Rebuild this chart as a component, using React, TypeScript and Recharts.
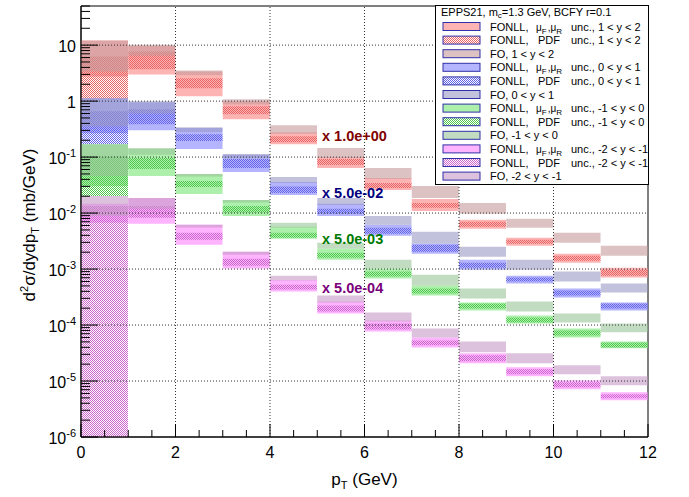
import React from 'react';
import {
  ComposedChart,
  Bar,
  XAxis,
  YAxis,
  Label,
  ReferenceLine,
  ReferenceArea,
  ReferenceDot,
} from 'recharts';

// pT bin centres (GeV), bins are 1 GeV wide
const ptBins = [0.5, 1.5, 2.5, 3.5, 4.5, 5.5, 6.5, 7.5, 8.5, 9.5, 10.5, 11.5];
const rapidityRanges = ['1 < y < 2', '0 < y < 1', '-1 < y < 0', '-2 < y < -1'];
const scaleNotes = ['x 1.0e+00', 'x 5.0e-02', 'x 5.0e-03', 'x 5.0e-04'];
const notePt = 5.1;
const noteValues = [0.238, 0.0229, 0.00344, 0.000459];

const xTicks = [0, 0.5, 1, 1.5, 2, 2.5, 3, 3.5, 4, 4.5, 5, 5.5, 6, 6.5, 7, 7.5, 8, 8.5, 9, 9.5, 10, 10.5, 11, 11.5, 12];
const xGrid = [2, 4, 6, 8, 10];
const decades = [-6, -5, -4, -3, -2, -1, 0, 1];

// [low, high] in mb/GeV, already multiplied by the factor of the rapidity bin
// 1 < y < 2
const y12Scale = [[2.76, 12.1], [3.0, 9.6], [1.22, 3.39], [0.474, 0.99], [0.17, 0.279], [0.064, 0.1], [0.0259, 0.0423], [0.0109, 0.0179], [0.00523, 0.00757], [0.00261, 0.00362], [0.0013, 0.00188], [0.000703, 0.00106]];
const y12Pdf = [[1.08, 6.27], [3.7, 7.7], [1.69, 2.55], [0.582, 0.808], [0.185, 0.236], [0.072, 0.092], [0.0281, 0.0345], [0.0124, 0.0152], [0.00568, 0.00697], [0.00283, 0.00334], [0.00141, 0.00173], [0.000763, 0.000975]];
const y12Fo = [[3.39, 12.1], [6.5, 10.2], [2.9, 3.53], [0.87, 1.08], [0.26, 0.371], [0.096, 0.145], [0.0406, 0.0637], [0.0186, 0.0305], [0.00968, 0.0152], [0.00545, 0.00789], [0.00295, 0.00444], [0.00173, 0.00261]];
// 0 < y < 1
const y01Scale = [[0.267, 1.12], [0.302, 0.95], [0.139, 0.33], [0.054, 0.11], [0.0211, 0.0359], [0.0089, 0.0146], [0.00393, 0.00617], [0.00188, 0.00283], [0.000975, 0.00147], [0.00055, 0.000763], [0.00031, 0.000448], [0.000182, 0.000253]];
const y01Pdf = [[0.17, 0.659], [0.386, 0.714], [0.193, 0.256], [0.064, 0.092], [0.0229, 0.0299], [0.00968, 0.0119], [0.00427, 0.00545], [0.00204, 0.00272], [0.00106, 0.0013], [0.000597, 0.000703], [0.000336, 0.000413], [0.000197, 0.000242]];
const y01Fo = [[0.356, 1.12], [0.6, 0.99], [0.28, 0.342], [0.095, 0.113], [0.0345, 0.0441], [0.014, 0.0186], [0.00617, 0.0089], [0.00283, 0.00463], [0.00166, 0.0025], [0.000975, 0.00147], [0.000597, 0.0009], [0.00038, 0.00055]];
// -1 < y < 0
const ym10Scale = [[0.0305, 0.17], [0.0459, 0.14], [0.022, 0.0499], [0.0089, 0.0172], [0.00348, 0.00568], [0.00147, 0.00231], [0.000675, 0.00102], [0.000336, 0.000507], [0.000182, 0.000253], [0.000107, 0.000148], [6.0e-5, 8.7e-5], [3.84e-5, 5.1e-5]];
const ym10Pdf = [[0.0202, 0.104], [0.0611, 0.096], [0.0292, 0.0374], [0.0101, 0.0134], [0.00362, 0.00444], [0.0016, 0.00196], [0.000733, 0.0009], [0.000365, 0.000448], [0.000197, 0.000242], [0.000111, 0.000137], [6.5e-5, 8.0e-5], [3.99e-5, 4.9e-5]];
const ym10Fo = [[0.0459, 0.17], [0.11, 0.145], [0.045, 0.0499], [0.0155, 0.0172], [0.00545, 0.0067], [0.00231, 0.00295], [0.00102, 0.00147], [0.000507, 0.000794], [0.000297, 0.000448], [0.000175, 0.000263], [0.000111, 0.000161], [7.4e-5, 0.000107]];
// -2 < y < -1
const ym21Scale = [[0.0067, 0.0146], [0.00643, 0.0186], [0.00272, 0.00617], [0.00102, 0.00204], [0.000396, 0.00064], [0.000161, 0.000263], [7.7e-5, 0.000121], [3.99e-5, 6.0e-5], [2.07e-5, 3.12e-5], [1.22e-5, 1.76e-5], [7.15e-6, 1.03e-5], [4.55e-6, 6.3e-6]];
const ym21Pdf = [[1e-6, 0.0134], [0.00822, 0.0134], [0.00334, 0.00444], [0.00115, 0.00153], [0.00043, 0.000527], [0.000175, 0.000223], [8.35e-5, 0.000107], [4.34e-5, 5.32e-5], [2.25e-5, 2.88e-5], [1.32e-5, 1.62e-5], [7.76e-6, 9.5e-6], [4.94e-6, 5.82e-6]];
const ym21Fo = [[0.0089, 0.0202], [0.012, 0.0186], [0.0055, 0.00617], [0.0018, 0.00204], [0.000622, 0.000763], [0.000253, 0.000336], [0.000116, 0.000168], [6.0e-5, 8.7e-5], [3.25e-5, 5.1e-5], [2.07e-5, 3.12e-5], [1.32e-5, 1.91e-5], [8.4e-6, 1.22e-5]];

const palette = [
  { scale: '#ff8c8c', pdf: '#e86464', fo: '#c49a9a', note: '#7f0000' },
  { scale: '#8c8cff', pdf: '#6464e8', fo: '#9a9ac4', note: '#00007f' },
  { scale: '#7fe87f', pdf: '#50c850', fo: '#9ac49a', note: '#007a00' },
  { scale: '#ff8cff', pdf: '#cc66cc', fo: '#c49ac4', note: '#7a007a' },
];

const bands = [
  { key: 'y12Scale', values: y12Scale, rap: 0, kind: 'scale' },
  { key: 'y12Pdf', values: y12Pdf, rap: 0, kind: 'pdf' },
  { key: 'y12Fo', values: y12Fo, rap: 0, kind: 'fo' },
  { key: 'y01Scale', values: y01Scale, rap: 1, kind: 'scale' },
  { key: 'y01Pdf', values: y01Pdf, rap: 1, kind: 'pdf' },
  { key: 'y01Fo', values: y01Fo, rap: 1, kind: 'fo' },
  { key: 'ym10Scale', values: ym10Scale, rap: 2, kind: 'scale' },
  { key: 'ym10Pdf', values: ym10Pdf, rap: 2, kind: 'pdf' },
  { key: 'ym10Fo', values: ym10Fo, rap: 2, kind: 'fo' },
  { key: 'ym21Scale', values: ym21Scale, rap: 3, kind: 'scale' },
  { key: 'ym21Pdf', values: ym21Pdf, rap: 3, kind: 'pdf' },
  { key: 'ym21Fo', values: ym21Fo, rap: 3, kind: 'fo' },
];

const rows = ptBins.map((pt, i) => {
  const row: Record<string, any> = { pt };
  bands.forEach((b) => {
    row[b.key] = b.values[i];
  });
  return row;
});

const yTicks = decades.flatMap((e) =>
  [1, 2, 3, 4, 5, 6, 7, 8, 9].map((k) => Number((k * Math.pow(10, e)).toPrecision(2)))
).filter((v) => v <= 50);

const FONT = '"Liberation Sans", Arial, Helvetica, sans-serif';

const fillOf = (b: any) => {
  const c = palette[b.rap];
  if (b.kind === 'pdf') return { fill: `url(#chk${b.rap})`, opacity: 1 };
  if (b.kind === 'fo') return { fill: c.fo, opacity: 0.6 };
  return { fill: c.scale, opacity: 0.65 };
};

const renderXTick = (props: any) => {
  const { x, y, payload } = props;
  const v = payload.value;
  const major = v % 2 === 0;
  return (
    <g>
      <line x1={x} x2={x} y1={y} y2={y - (major ? 13 : 7)} stroke="#000" />
      {major && (
        <text x={x} y={y + 21} textAnchor="middle" fontSize={16} fill="#000">
          {v}
        </text>
      )}
    </g>
  );
};

const renderYTick = (props: any) => {
  const { x, y, payload } = props;
  const v = payload.value;
  const e = Math.floor(Math.log10(v) + 1e-9);
  const major = Math.abs(v / Math.pow(10, e) - 1) < 1e-6;
  return (
    <g>
      <line x1={x} x2={x + (major ? 17 : 9)} y1={y} y2={y} stroke="#000" />
      {major && (
        <text x={x - 5} y={y + 7} textAnchor="end" fontSize={16} fill="#000">
          {e === 1 ? '10' : e === 0 ? '1' : (
            <>
              10<tspan dy={-7} fontSize={11}>{e}</tspan>
            </>
          )}
        </text>
      )}
    </g>
  );
};

const renderXTitle = (props: any) => {
  const vb = props.viewBox;
  return (
    <text x={vb.x + vb.width / 2} y={vb.y + 48} textAnchor="middle" fontSize={17} fill="#000">
      p<tspan dy={4} fontSize={11}>T</tspan>
      <tspan dy={-4}> (GeV)</tspan>
    </text>
  );
};

const renderYTitle = (props: any) => {
  const vb = props.viewBox;
  return (
    <text transform={`translate(35, ${vb.y + 219}) rotate(-90)`} x={0} y={0} textAnchor="middle" fontSize={17} fill="#000">
      d<tspan dy={-7} fontSize={11}>2</tspan>
      <tspan dy={7}>σ/dydp</tspan>
      <tspan dy={4} fontSize={11}>T</tspan>
      <tspan dy={-4}> (mb/GeV)</tspan>
    </text>
  );
};

const NoteLabel = (props: any) => {
  const { viewBox, text, color } = props;
  return (
    <text x={viewBox.x} y={viewBox.y + 5} fontSize={14.5} fontWeight="bold" fill={color}>
      {text}
    </text>
  );
};

const LegendText = ({ kind, rap, y }: any) => {
  if (kind === 'scale') {
    return (
      <text y={y} fontSize={11} fill="#000">
        <tspan x={55}>FONLL,</tspan>
        <tspan x={101} fontSize={10}>μ</tspan>
        <tspan fontSize={8} dy={3}>F</tspan>
        <tspan fontSize={10} dy={-3} dx={1}>,μ</tspan>
        <tspan fontSize={8} dy={3}>R</tspan>
        <tspan x={136} dy={-3}>{`unc., ${rap}`}</tspan>
      </text>
    );
  }
  if (kind === 'pdf') {
    return (
      <text y={y} fontSize={11} fill="#000">
        <tspan x={55}>FONLL,</tspan>
        <tspan x={103}>PDF</tspan>
        <tspan x={136}>{`unc., ${rap}`}</tspan>
      </text>
    );
  }
  return (
    <text x={55} y={y} fontSize={11} fill="#000">
      {`FO, ${rap}`}
    </text>
  );
};

const LegendBox = () => (
  <svg width={214} height={180} style={{ position: 'absolute', left: 435, top: 5 }}>
    <rect x={0.5} y={0.5} width={213} height={179} fill="#fff" stroke="#000" />
    <text x={6} y={11} fontSize={11} fill="#000">
      EPPS21, m<tspan dy={2} fontSize={8}>c</tspan>
      <tspan dy={-2}>=1.3 GeV, BCFY r=0.1</tspan>
    </text>
    {bands.map((b, i) => {
      const cy = 21.5 + 13.6 * i;
      const f = fillOf(b);
      return (
        <g key={b.key}>
          <rect x={8} y={cy - 4} width={37} height={8} fill="#fff" />
          <rect x={8} y={cy - 4} width={37} height={8} fill={f.fill} fillOpacity={f.opacity} stroke="#3030a8" strokeWidth={1} />
          <LegendText kind={b.kind} rap={rapidityRanges[b.rap]} y={cy + 4} />
        </g>
      );
    })}
  </svg>
);

export default function App() {
  return (
    <div
      style={{
        position: 'absolute',
        left: 0,
        top: 0,
        width: 689,
        height: 497,
        background: '#fff',
        fontFamily: FONT,
      }}
    >
      <ComposedChart
        width={689}
        height={497}
        data={rows}
        margin={{ top: 6, right: 41, bottom: 0, left: 0 }}
        barCategoryGap={0}
        barGap={0}
      >
        <defs>
          {palette.map((c, i) => (
            <pattern key={i} id={`chk${i}`} width={2} height={2} patternUnits="userSpaceOnUse">
              <rect x={0} y={0} width={1} height={1} fill={c.pdf} />
              <rect x={1} y={1} width={1} height={1} fill={c.pdf} />
            </pattern>
          ))}
        </defs>

        {bands.map((b) => (
          <XAxis key={`ax-${b.key}`} xAxisId={b.key} type="number" dataKey="pt" domain={[0, 12]} hide allowDataOverflow />
        ))}

        {bands.map((b) => {
          const f = fillOf(b);
          return (
            <Bar
              key={b.key}
              dataKey={b.key}
              xAxisId={b.key}
              fill={f.fill}
              fillOpacity={f.opacity}
              isAnimationActive={false}
            />
          );
        })}

        {decades.slice(1).map((e) => (
          <ReferenceLine key={`h${e}`} xAxisId="pt" y={Math.pow(10, e)} stroke="#333" strokeDasharray="1 2" />
        ))}
        {xGrid.map((v) => (
          <ReferenceLine key={`v${v}`} xAxisId="pt" x={v} stroke="#333" strokeDasharray="1 2" />
        ))}
        <ReferenceArea xAxisId="pt" x1={0} x2={12} y1={1e-6} y2={50} fill="none" stroke="#000" ifOverflow="visible" />

        {scaleNotes.map((t, i) => (
          <ReferenceDot
            key={t}
            xAxisId="pt"
            x={notePt}
            y={noteValues[i]}
            r={0}
            fill="none"
            stroke="none"
            label={<NoteLabel text={t} color={palette[i].note} />}
          />
        ))}

        <XAxis
          xAxisId="pt"
          type="number"
          dataKey="pt"
          domain={[0, 12]}
          ticks={xTicks}
          interval={0}
          tick={renderXTick}
          tickLine={false}
          tickSize={0}
          tickMargin={0}
          axisLine={{ stroke: '#000' }}
          height={60}
          allowDataOverflow
        >
          <Label content={renderXTitle} />
        </XAxis>
        <YAxis
          type="number"
          scale="log"
          domain={[1e-6, 50]}
          allowDataOverflow
          ticks={yTicks}
          interval={0}
          tick={renderYTick}
          tickLine={false}
          tickSize={0}
          tickMargin={0}
          width={81}
          axisLine={{ stroke: '#000' }}
        >
          <Label content={renderYTitle} />
        </YAxis>
      </ComposedChart>
      <LegendBox />
    </div>
  );
}
